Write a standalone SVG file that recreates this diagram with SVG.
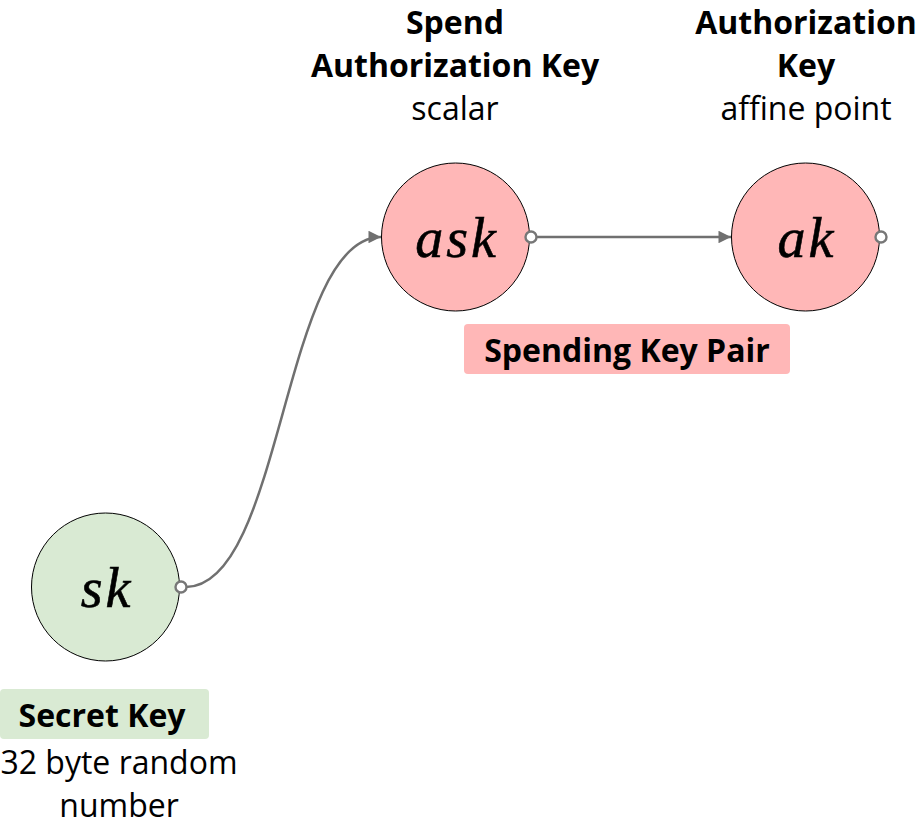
<svg xmlns="http://www.w3.org/2000/svg" width="920" height="828" viewBox="0 0 920 828">
<style>
.node{stroke:#000;stroke-width:1}
.pink{fill:#ffb7b7}
.green{fill:#d9ead3}
.math{font-family:"Liberation Serif","DejaVu Serif",serif;font-style:italic;font-size:56px;letter-spacing:3px;text-anchor:middle;fill:#000;stroke:#000;stroke-width:0.6}
.t{font-family:"Open Sans","Noto Sans",sans-serif;font-size:32px;text-anchor:middle;fill:#000}
.b{font-weight:bold}
.port{fill:#fff;stroke:#777;stroke-width:2.4}
.edge{fill:none;stroke:#707070;stroke-width:2.5}
</style>
<defs>
<marker id="arr" viewBox="0 0 10 10" refX="10" refY="5" markerWidth="5.5" markerHeight="5" markerUnits="strokeWidth" orient="auto">
<path d="M0,0 L10,5 L0,10 z" fill="#707070"/>
</marker>
</defs>
<rect width="920" height="828" fill="#fff"/>
<g id="connectors">
<path class="edge" d="M186,587 C283,587 283,237 381,237" marker-end="url(#arr)"/>
<path class="edge" d="M536,237 L731,237" marker-end="url(#arr)"/>
</g>
<g id="ask">
<text class="t b" x="455" y="34">Spend</text>
<text class="t b" x="455" y="77">Authorization Key</text>
<text class="t" x="455" y="120">scalar</text>
<circle class="node pink" cx="455.5" cy="237" r="74"/>
<text class="math" x="457" y="257">ask</text>
<circle class="port" cx="531" cy="237" r="5.5"/>
</g>
<g id="ak">
<text class="t b" x="806" y="34">Authorization</text>
<text class="t b" x="806" y="77">Key</text>
<text class="t" x="806" y="120">affine point</text>
<circle class="node pink" cx="805.5" cy="237" r="74"/>
<text class="math" x="807" y="257">ak</text>
<circle class="port" cx="881" cy="237" r="5.5"/>
</g>
<g id="spending-key-pair">
<rect class="pink" x="464" y="324" width="326" height="50" rx="4"/>
<text class="t b" x="627" y="362">Spending Key Pair</text>
</g>
<g id="sk">
<circle class="node green" cx="105.5" cy="587" r="74"/>
<text class="math" x="107" y="607">sk</text>
<circle class="port" cx="181" cy="587" r="5.5"/>
<rect class="green" x="0" y="689" width="209" height="50" rx="4"/>
<text class="t b" x="102" y="727">Secret Key</text>
<text class="t" x="119" y="774">32 byte random</text>
<text class="t" x="119" y="817">number</text>
</g>
</svg>
